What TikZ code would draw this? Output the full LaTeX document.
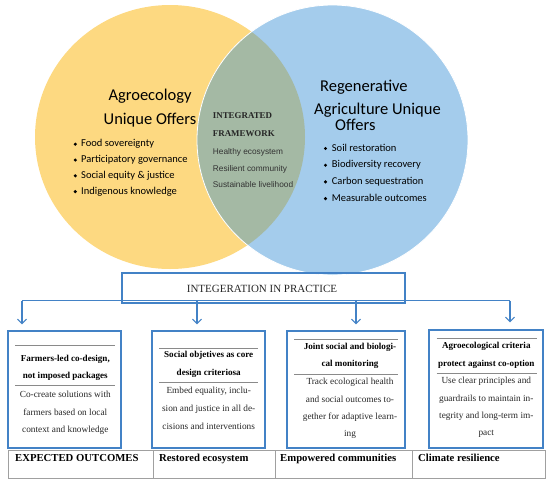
\documentclass[tikz,border=0pt]{standalone}
\usepackage{fontspec}
\setmainfont{Liberation Serif}
\newfontfamily\carlito{Carlito}
\newfontfamily\lsans{Liberation Sans}
\usetikzlibrary{arrows.meta}
\definecolor{yel}{HTML}{FDD981}
\definecolor{blu}{HTML}{A4CCEC}
\definecolor{grn}{HTML}{A4B9A4}
\definecolor{bbox}{HTML}{4382C6}
\definecolor{gline}{HTML}{8A8A8A}
\definecolor{tline}{HTML}{A0A0A0}
\tikzset{
  bigsans/.style={font=\carlito\fontsize{16.5}{18}\selectfont, inner sep=0pt},
  bulsans/.style={font=\carlito\fontsize{10.5}{12}\selectfont, anchor=base west, inner sep=0pt},
  inttitle/.style={font=\bfseries\fontsize{8.9}{10}\selectfont, anchor=base west, inner sep=0pt, text=black!85},
  intbody/.style={font=\lsans\fontsize{8.3}{10}\selectfont, anchor=base west, inner sep=0pt, text=black!80},
  pbox/.style={draw=bbox, line width=1.3pt, inner sep=0pt, minimum height=117pt},
  btitle/.style={font=\bfseries\fontsize{9.1}{11}\selectfont, anchor=base, inner sep=0pt},
  bbody/.style={font=\fontsize{9.3}{11}\selectfont, anchor=base, inner sep=0pt, text=black!85},
  cell/.style={draw=tline, line width=0.8pt, inner sep=0pt, minimum height=28pt},
  celltext/.style={font=\bfseries\fontsize{10.7}{12}\selectfont, anchor=base west, inner sep=0pt},
  conn/.style={draw=bbox, line width=1.2pt},
  arr/.style={conn, -{Straight Barb[length=4.5pt,width=9pt,line width=1.1pt]}},
  gsep/.style={draw=gline, line width=1pt},
  dot/.style={fill=black}
}
\begin{document}
\begin{tikzpicture}[x=1pt,y=-1pt]
\useasboundingbox (0,0) rectangle (550,483);
% Venn
\fill[yel] (170,137) ellipse [x radius=135, y radius=132];
\fill[blu] (332.5,140) ellipse [x radius=135.5, y radius=135];
\begin{scope}
  \clip (332.5,140) ellipse [x radius=135.5, y radius=135];
  \fill[grn] (170,137) ellipse [x radius=135, y radius=132];
\end{scope}
\draw[white, line width=0.8pt] (332.5,140) ellipse [x radius=135.5, y radius=135];

% Agroecology
\node[bigsans, anchor=base] (ag1) at (150,100) {Agroecology};
\node[bigsans, anchor=base] (ag2) at (150,124) {Unique Offers};
\foreach \t [count=\i] in {Food sovereignty, Participatory governance, Social equity \& justice, Indigenous knowledge}{
  \node[bulsans] (agb\i) at (81,{146.7+15.8*(\i-1)}) {\t};
  \fill[dot] (75.3,{146.7+15.8*(\i-1)-2.5}) circle [radius=1.7pt];
}

% Regenerative
\node[bigsans, anchor=base west] (rg1) at (320,91.7) {Regenerative};
\node[bigsans, anchor=base west] (rg2) at (314,114.3) {Agriculture Unique};
\node[bigsans, anchor=base west] (rg3) at (335,130) {Offers};
\foreach \t [count=\i] in {Soil restoration, Biodiversity recovery, Carbon sequestration, Measurable outcomes}{
  \node[bulsans] (rgb\i) at (331.7,{151+16.7*(\i-1)}) {\t};
  \fill[dot] (325.5,{151+16.7*(\i-1)-2.5}) circle [radius=1.7pt];
}

% Integrated framework
\node[inttitle] (if1) at (212.7,118.7) {INTEGRATED};
\node[inttitle] (if2) at (212.7,136) {FRAMEWORK};
\node[intbody] (if3) at (212.7,154) {Healthy ecosystem};
\node[intbody] (if4) at (212.7,171) {Resilient community};
\node[intbody] (if5) at (212.7,187.7) {Sustainable livelihood};

% Integration in practice
\node[draw=bbox, line width=1.3pt, minimum width=283pt, minimum height=30pt, inner sep=0pt] (prac) at (263.5,288) {};
\node[font=\fontsize{11}{13}\selectfont, anchor=base, inner sep=0pt, text=black!85] (pract) at (262,292) {INTEGERATION IN PRACTICE};

% boxes
\node[pbox, minimum width=113pt] (b1) at (64.5,389.5) {};
\node[pbox, minimum width=113pt] (b2) at (208.5,389.5) {};
\node[pbox, minimum width=118pt] (b3) at (346,389.5) {};
\node[pbox, minimum width=114pt, minimum height=118pt] (b4) at (486,389) {};

% connectors
\coordinate (a1) at (22,300.5);
\coordinate (a2) at (197,300.5);
\coordinate (a3) at (356,300.5);
\coordinate (a4) at (510,300.5);
\draw[conn] (a1) -- (a4);
\draw[arr, shorten >=6pt] (a1) -- (a1 |- b1.north);
\draw[arr, shorten >=6pt] (a2) -- (a2 |- b2.north);
\draw[arr, shorten >=6pt] (a3) -- (a3 |- b3.north);
\draw[arr, shorten >=7pt] (a4) -- (a4 |- b4.north);

% box 1
\draw[gsep] (15,345) -- (115,345);
\draw[gsep] (15,385) -- (115,385);
\node[btitle] (t11) at (65.3,361.7) {Farmers-led co-design,};
\node[btitle] (t12) at (65.3,378.3) {not imposed packages};
\node[bbody] (t13) at (65.3,397.7) {Co-create solutions with};
\node[bbody] (t14) at (65.3,415) {farmers based on local};
\node[bbody] (t15) at (65.3,432.7) {context and knowledge};

% box 2
\draw[gsep] (159,348.3) -- (258,348.3);
\draw[gsep] (159,382.3) -- (258,382.3);
\node[btitle] (t21) at (208.7,357.7) {Social objetives as core};
\node[btitle] (t22) at (208.7,375) {design criteriosa};
\node[bbody] (t23) at (208.7,393.3) {Embed equality, inclu-};
\node[bbody] (t24) at (208.7,411.7) {sion and justice in all de-};
\node[bbody] (t25) at (208.7,429) {cisions and interventions};

% box 3
\draw[gsep] (294,339) -- (397.7,339);
\draw[gsep] (294,374) -- (397.7,374);
\node[btitle] (t31) at (350,349.3) {Joint social and biologi-};
\node[btitle] (t32) at (350,366.7) {cal monitoring};
\node[bbody] (t33) at (350,384) {Track ecological health};
\node[bbody] (t34) at (350,402.3) {and social outcomes to-};
\node[bbody] (t35) at (350,419.3) {gether for adaptive learn-};
\node[bbody] (t36) at (350,436.7) {ing};

% box 4
\draw[gsep] (436.7,338.3) -- (536.7,338.3);
\draw[gsep] (436.7,373.3) -- (536.7,373.3);
\node[btitle] (t41) at (486.3,348.3) {Agroecological criteria};
\node[btitle] (t42) at (486.3,366) {protect against co-option};
\node[bbody] (t43) at (486.3,383.3) {Use clear principles and};
\node[bbody] (t44) at (486.3,401) {guardrails to maintain in-};
\node[bbody] (t45) at (486.3,418.3) {tegrity and long-term im-};
\node[bbody] (t46) at (486.3,435.7) {pact};

% outcomes table
\node[cell, minimum width=145pt] (c1) at (80.5,464) {};
\node[cell, minimum width=122pt] (c2) at (214,464) {};
\node[cell, minimum width=137pt] (c3) at (343.5,464) {};
\node[cell, minimum width=133pt] (c4) at (478.5,464) {};
\node[celltext] (ct1) at (15,461.7) {EXPECTED OUTCOMES};
\node[celltext] (ct2) at (159,461.7) {Restored ecosystem};
\node[celltext] (ct3) at (280,461.7) {Empowered communities};
\node[celltext] (ct4) at (418,461.7) {Climate resilience};
\end{tikzpicture}
\end{document}
